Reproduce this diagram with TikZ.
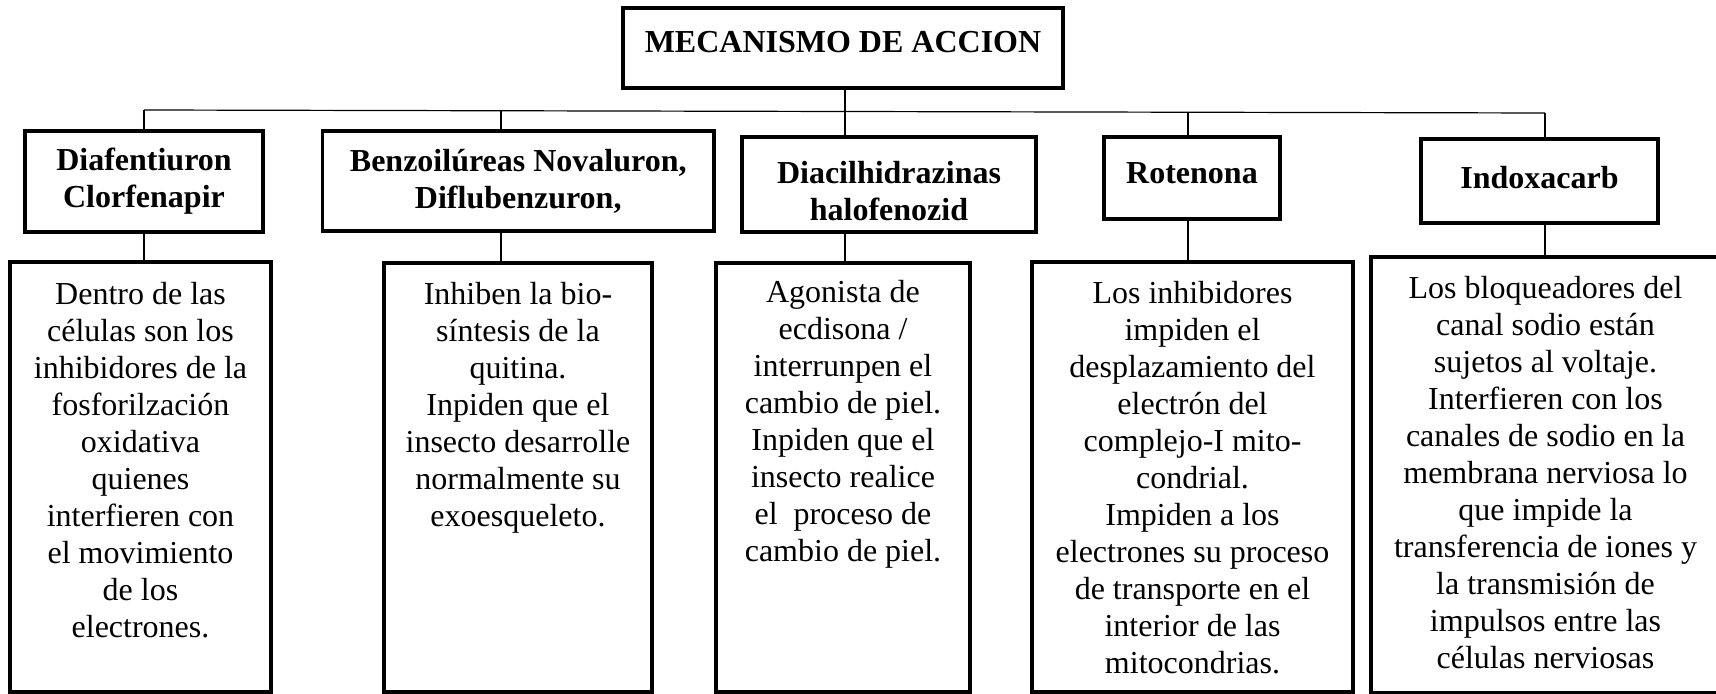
\documentclass[tikz,border=0pt]{standalone}
\usepackage{fontspec}
\setmainfont{Liberation Serif}
\usepackage{tikz}
\pgfdeclarelayer{bg}
\pgfsetlayers{bg,main}

\begin{document}
\begin{tikzpicture}[x=0.5pt, y=-0.5pt,
        headbox/.style={draw, line width=1.75pt, inner sep=0pt, align=center,
                font=\bfseries\fontsize{16}{18.4}\selectfont},
        descbox/.style={draw, line width=1.75pt, inner sep=0pt},
        desctext/.style={anchor=north, align=center, inner sep=0pt,
                font=\fontsize{16}{18.5}\selectfont},
        link/.style={line width=0.6pt}]
        \useasboundingbox (0,0) rectangle (1716,694);
        \node (m0) [headbox, text height=10.6pt, text depth=5.6pt, minimum width=220pt, minimum height=40pt] at (843, 48) {MECANISMO DE ACCION};
        \coordinate (j1) at (144, 110);
        \coordinate (j2) at (501, 110.8);
        \coordinate (j3) at (845, 111.5);
        \coordinate (j4) at (1188, 112.2);
        \coordinate (j5) at (1545, 113);
        \node (c1) [headbox, minimum width=119pt, minimum height=50.5pt] at (144, 181.5) {Diafentiuron\\Clorfenapir};
        \node (c2) [headbox, minimum width=195.75pt, minimum height=50pt] at (518.25, 181) {Benzoilúreas Novaluron,\\Diflubenzuron,};
        \node (c3) [headbox, minimum width=147pt, minimum height=47.5pt] at (889, 184.5) {\rule{0pt}{18pt}Diacilhidrazinas\\halofenozid};
        \node (c4) [headbox, text depth=5pt, minimum width=88pt, minimum height=41pt] at (1192, 178) {Rotenona};
        \node (c5) [headbox, text depth=4pt, minimum width=118.5pt, minimum height=42pt] at (1539.5, 181) {Indoxacarb};
        \node (d1) [descbox, minimum width=130.5pt, minimum height=215pt] at (140.5, 477) {};
        \node (d2) [descbox, minimum width=134pt, minimum height=214.5pt] at (518, 477.5) {};
        \node (d3) [descbox, minimum width=127pt, minimum height=214.5pt] at (843, 477.5) {};
        \node (d4) [descbox, minimum width=160.5pt, minimum height=215pt] at (1192.5, 477) {};
        \node (d5) [descbox, minimum width=174.5pt, minimum height=218pt] at (1545.5, 475) {};
        \node (t1) [desctext, yshift=-11pt] at (d1.north) {Dentro de las\\células son los\\inhibidores de la\\fosforilzación\\oxidativa\\quienes\\interfieren con\\el movimiento\\de los\\electrones.};
        \node (t2) [desctext, yshift=-10.5pt] at (d2.north) {Inhiben la bio-\\síntesis de la\\quitina.\\Inpiden que el\\insecto desarrolle\\normalmente su\\exoesqueleto.};
        \node (t3) [desctext, yshift=-9.5pt] at (d3.north) {Agonista de\\ecdisona /\\interrunpen el\\cambio de piel.\\Inpiden que el\\insecto realice\\el\ \ proceso de\\cambio de piel.};
        \node (t4) [desctext, yshift=-10.5pt] at (d4.north) {Los inhibidores\\impiden el\\desplazamiento del\\electrón del\\complejo-I mito-\\condrial.\\Impiden a los\\electrones su proceso\\de transporte en el\\interior de las\\mitocondrias.};
        \node (t5) [desctext, yshift=-10.5pt] at (d5.north) {Los bloqueadores del\\canal sodio están\\sujetos al voltaje.\\Interfieren con los\\canales de sodio en la\\membrana nerviosa lo\\que impide la\\transferencia de iones y\\la transmisión de\\impulsos entre las\\células nerviosas};
        \begin{pgfonlayer}{bg}
                \draw (j3 |- m0.south) edge [link] (j3);
                \draw (j1) edge [link] (j5);
                \draw (j1) edge [link] (j1 |- c1.north);
                \draw (j2) edge [link] (j2 |- c2.north);
                \draw (j3) edge [link] (j3 |- c3.north);
                \draw (j4) edge [link] (j4 |- c4.north);
                \draw (j5) edge [link] (j5 |- c5.north);
                \draw (j1 |- c1.south) edge [link] (j1 |- d1.north);
                \draw (j2 |- c2.south) edge [link] (j2 |- d2.north);
                \draw (j3 |- c3.south) edge [link] (j3 |- d3.north);
                \draw (j4 |- c4.south) edge [link] (j4 |- d4.north);
                \draw (j5 |- c5.south) edge [link] (j5 |- d5.north);
        \end{pgfonlayer}
\end{tikzpicture}
\end{document}
